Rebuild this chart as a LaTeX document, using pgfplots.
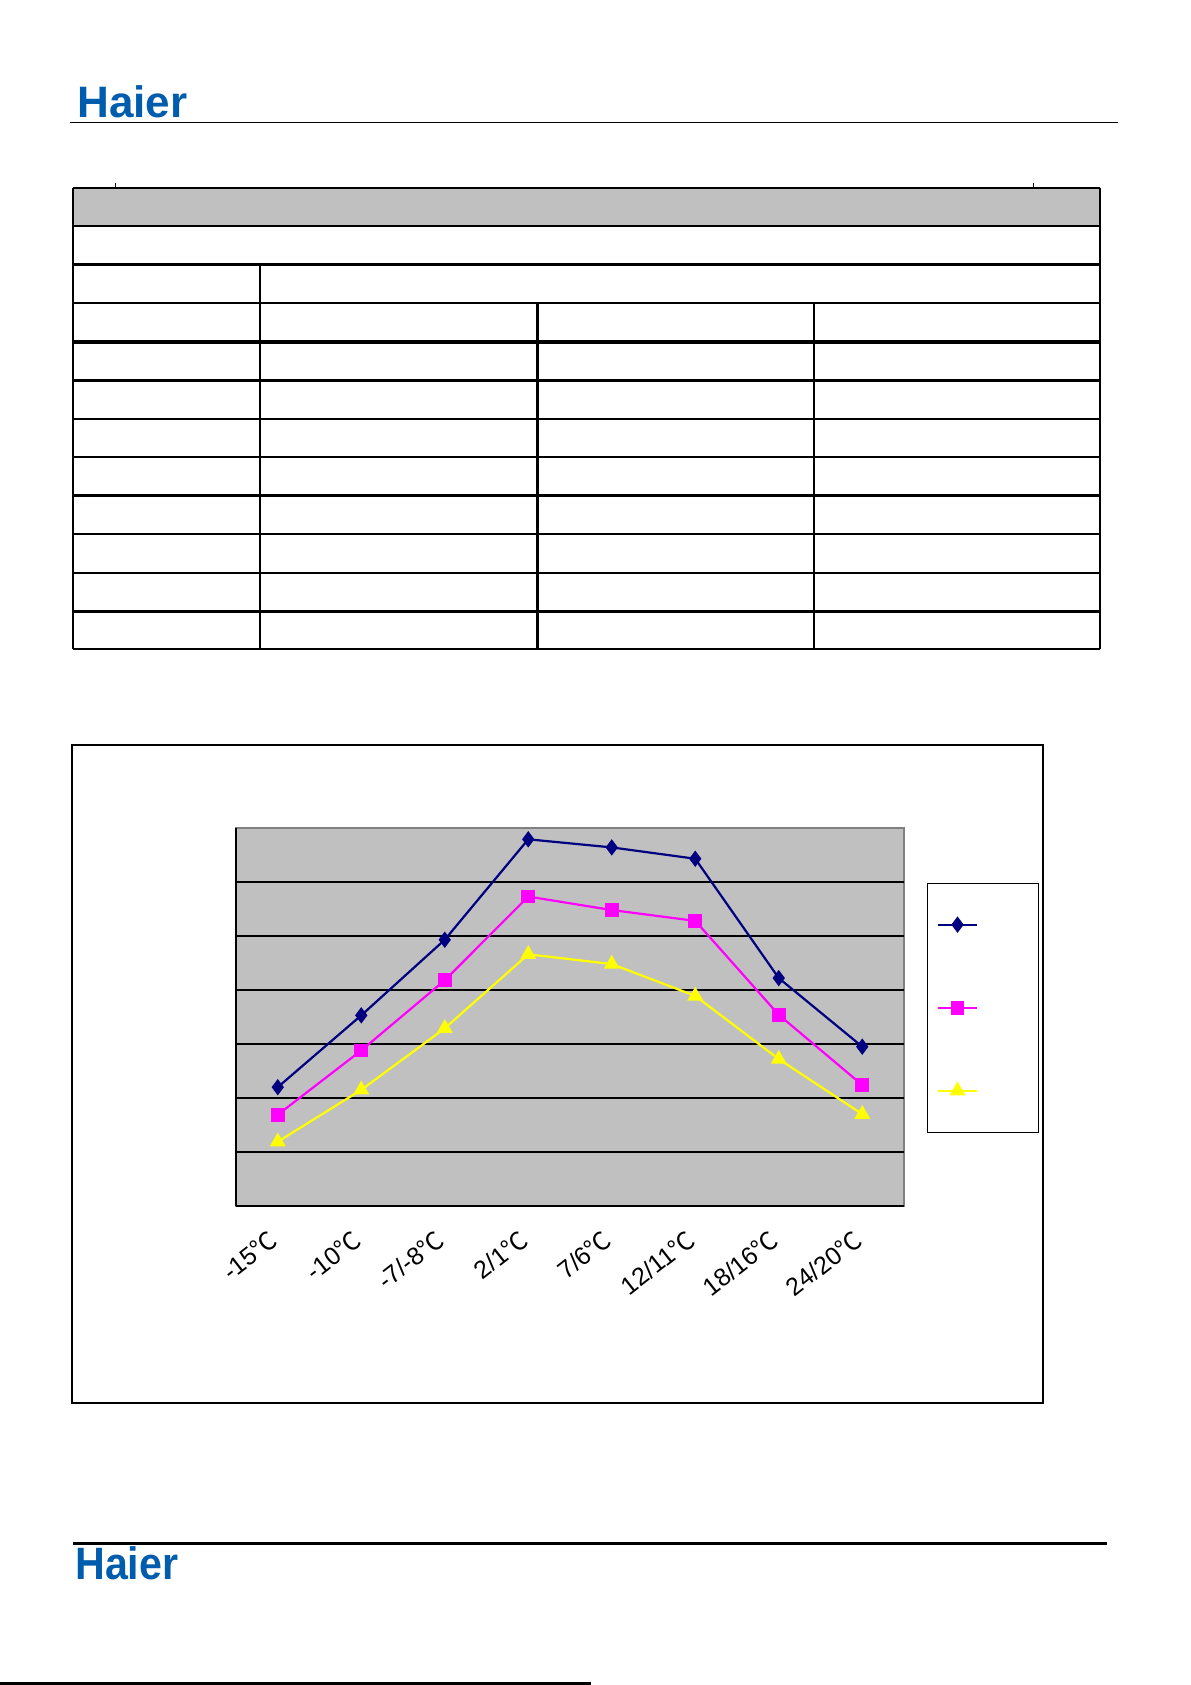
\documentclass[border=0pt]{standalone}
\usepackage{pgfplots}
\pgfplotsset{compat=1.18}
\usepackage{fontspec}
\setmainfont{Liberation Sans}
\newfontfamily\cjk{Noto Sans CJK SC}
\definecolor{haierblue}{RGB}{0,92,172}
\definecolor{plotgray}{RGB}{192,192,192}
\definecolor{bordergray}{RGB}{128,128,128}
\definecolor{navyc}{RGB}{0,0,128}
\definecolor{magc}{RGB}{255,0,255}
\definecolor{yelc}{RGB}{255,255,0}
\begin{document}
\begin{tikzpicture}[x=0.5bp,y=0.5bp]
\useasboundingbox (0,0) rectangle (1191,1685);
\fill[white] (0,0) rectangle (1191,1685);
% header
\node[anchor=base west, inner sep=0pt, text=haierblue, font=\fontsize{22bp}{22bp}\selectfont\bfseries] at (77,1685-118) {Haier};
\draw[line width=0.8bp] (70,1685-122.5) -- (1118,1685-122.5);
% table
\draw[line width=0.5bp] (115,1685-183) -- (115,1685-188);
\draw[line width=0.5bp] (1033,1685-183) -- (1033,1685-188);
\fill[plotgray] (73.1,1685-188.1) rectangle (1099.7,1685-225.8);
\foreach \yy in {188.1,225.8,264.5,303.2,380.6,419.3,456.9,495.6,534.3,573.0,611.7,649.3}
  \draw[line width=1.2bp] (73.1,1685-\yy) -- (1099.7,1685-\yy);
\draw[line width=2bp] (73.1,1685-341.9) -- (1099.7,1685-341.9);
\draw[line width=1.2bp] (73.1,1685-188.1) -- (73.1,1685-649.3);
\draw[line width=1.2bp] (1099.7,1685-188.1) -- (1099.7,1685-649.3);
\draw[line width=1.2bp] (260.2,1685-264.5) -- (260.2,1685-649.3);
\draw[line width=1.2bp] (537.5,1685-303.2) -- (537.5,1685-649.3);
\draw[line width=1.2bp] (813.8,1685-303.2) -- (813.8,1685-649.3);
% chart frame
\draw[line width=0.6bp] (72,1685-745) rectangle (1043,1685-1403);
\begin{axis}[
  at={(118bp,239.5bp)}, anchor=south west,
  scale only axis, width=334bp, height=189bp,
  xmin=-0.5, xmax=7.5, ymin=0, ymax=7,
  ytick={1,...,6}, yticklabels={},
  ymajorgrids, grid style={black, line width=0.6bp},
  axis background/.style={fill=plotgray, draw=bordergray, line width=0.8bp},
  axis x line*=bottom, axis y line*=left,
  axis line style={-, black, line width=0.8bp},
  major tick length=0pt,
  xtick={0,...,7},
  xticklabels={-15{\cjk ℃}, -10{\cjk ℃}, -7/-8{\cjk ℃}, 2/1{\cjk ℃}, 7/6{\cjk ℃}, 12/11{\cjk ℃}, 18/16{\cjk ℃}, 24/20{\cjk ℃}},
  xticklabel style={xshift=-2bp, yshift=-15bp, rotate=38, anchor=east, inner sep=0pt, font=\fontsize{12.5bp}{13bp}\selectfont},
  legend style={at={(1.034,0.8556)}, anchor=north west, draw=black, line width=0.6bp, fill=white,
    inner xsep=4.65bp, inner ysep=0pt,
    nodes={inner sep=0pt, minimum height=41.5bp, text width=25.5bp}},
  legend cell align=left,
  legend image code/.code={\draw[mark repeat=2, mark phase=2] plot coordinates {(0bp,0bp) (9.9bp,0bp) (19.8bp,0bp)};},
]
\addplot[color=navyc, line width=1.1bp, mark=diamond*, mark size=3.2bp, mark options={solid, fill=navyc}]
  coordinates {(0,2.20)(1,3.53)(2,4.93)(3,6.79)(4,6.64)(5,6.43)(6,4.22)(7,2.95)};
\addlegendentry{\phantom{X}}
\addplot[color=magc, line width=1.1bp, mark=square*, mark size=2.9bp, mark options={solid, fill=magc}]
  coordinates {(0,1.69)(1,2.88)(2,4.18)(3,5.73)(4,5.48)(5,5.28)(6,3.54)(7,2.24)};
\addlegendentry{\phantom{X}}
\addplot[color=yelc, line width=1.1bp, mark=triangle*, mark size=3.5bp, mark options={solid, fill=yelc}]
  coordinates {(0,1.19)(1,2.15)(2,3.29)(3,4.66)(4,4.48)(5,3.89)(6,2.72)(7,1.70)};
\addlegendentry{\phantom{X}}
\end{axis}
% footer
\draw[line width=1.5bp] (73,1685-1544) -- (1107,1685-1544);
\node[anchor=base west, inner sep=0pt, text=haierblue, font=\fontsize{21bp}{21bp}\selectfont\bfseries, yscale=1.08, xscale=0.98] at (75,1685-1580) {Haier};
\draw[line width=1bp] (0,1.5) -- (591,1.5);
\end{tikzpicture}
\end{document}
